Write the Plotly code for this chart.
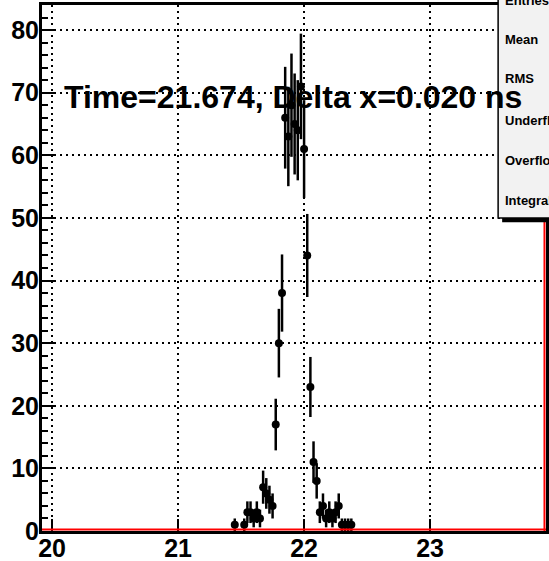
import plotly.graph_objects as go
import numpy as np

# bin centers (ns) and counts (empty bins omitted)
time_ns = [21.450, 21.525, 21.550, 21.575, 21.600, 21.625, 21.650, 21.675, 21.700,
           21.725, 21.750, 21.775, 21.800, 21.825, 21.850, 21.875, 21.900, 21.925,
           21.950, 21.975, 22.000, 22.025, 22.050, 22.075, 22.100, 22.125, 22.150,
           22.175, 22.200, 22.225, 22.250, 22.275, 22.300, 22.325, 22.350, 22.375]
counts = [1, 1, 3, 3, 2, 3, 2, 7, 6,
          5, 4, 17, 30, 38, 66, 63, 68, 65,
          64, 71, 61, 44, 23, 11, 8, 3, 4,
          2, 3, 2, 3, 4, 1, 1, 1, 1]
errors = list(np.sqrt(counts))

x_ticks = [20, 21, 22, 23]
y_ticks = [0, 10, 20, 30, 40, 50, 60, 70, 80]
title_text = "Time=21.674, Delta x=0.020 ns"
stats_labels = ["Entries", "Mean", "RMS", "Underflow", "Overflow", "Integral"]

FONT = "Liberation Sans, Arial, Helvetica, sans-serif"

fig = go.Figure()
fig.add_trace(go.Scatter(
    x=time_ns, y=counts, mode="markers",
    marker=dict(color="black", size=8, symbol="circle"),
    error_y=dict(type="data", array=errors, visible=True, color="black",
                 thickness=2.5, width=0),
    hoverinfo="x+y",
))

fig.update_layout(
    width=549, height=561,
    margin=dict(l=42, r=3, t=5, b=30),
    plot_bgcolor="white", paper_bgcolor="white",
    showlegend=False,
    xaxis=dict(range=[19.92, 23.92], tickvals=x_ticks, ticktext=[str(v) for v in x_ticks],
               ticks="inside", ticklen=12, tickwidth=1.5, tickcolor="black",
               showline=True, linecolor="black", linewidth=3, mirror=True,
               showgrid=True, gridcolor="black", gridwidth=1.5, griddash="2px,4px",
               zeroline=False, automargin=False, ticklabelstandoff=-7,
               tickfont=dict(family=FONT, size=25, color="black", weight="bold")),
    yaxis=dict(range=[0, 84], tickvals=y_ticks, ticktext=[str(v) for v in y_ticks],
               ticks="inside", ticklen=12, tickwidth=1.5, tickcolor="black",
               minor=dict(dtick=2, ticks="inside", ticklen=6, tickcolor="black",
                          tickwidth=1.5, showgrid=False),
               showline=True, linecolor="black", linewidth=3, mirror=True,
               showgrid=True, gridcolor="black", gridwidth=1.5, griddash="2px,4px",
               zeroline=False, automargin=False, ticklabelstandoff=-5,
               tickfont=dict(family=FONT, size=25, color="black", weight="bold")),
)

shapes = [
    # red histogram baseline and right edge
    dict(type="line", xref="paper", yref="paper", x0=0, x1=1, y0=0.003, y1=0.003,
         line=dict(color="red", width=2), layer="above"),
    dict(type="line", xref="paper", yref="paper", x0=0.997, x1=0.997, y0=0, y1=0.6,
         line=dict(color="red", width=2), layer="above"),
    # stats box shadow and box
    dict(type="rect", xref="paper", yref="paper", x0=0.913, x1=1.3, y0=0.587, y1=1.2,
         fillcolor="black", line=dict(width=0), layer="above"),
    dict(type="rect", xref="paper", yref="paper", x0=0.905, x1=1.3, y0=0.595, y1=1.2,
         fillcolor="#f2f2f2", line=dict(color="black", width=1.5), layer="above"),
]
fig.update_layout(shapes=shapes)

annotations = [
    dict(text=title_text, xref="paper", yref="paper", x=(62 - 42) / 504, y=0.825,
         xanchor="left", yanchor="middle", showarrow=False,
         font=dict(family=FONT, size=32, color="black", weight="bold")),
]
stat_y_px = [1, 40, 79, 120, 160, 200]
for lab, ypx in zip(stats_labels, stat_y_px):
    annotations.append(dict(text=lab, xref="paper", yref="paper",
                            x=(503 - 42) / 504, y=(531 - ypx) / 526,
                            xanchor="left", yanchor="middle", showarrow=False,
                            font=dict(family=FONT, size=13, color="black", weight="bold")))
fig.update_layout(annotations=annotations)

fig.write_html("out.html", config={"displayModeBar": False},
               post_script="document.body.style.margin='0';")
